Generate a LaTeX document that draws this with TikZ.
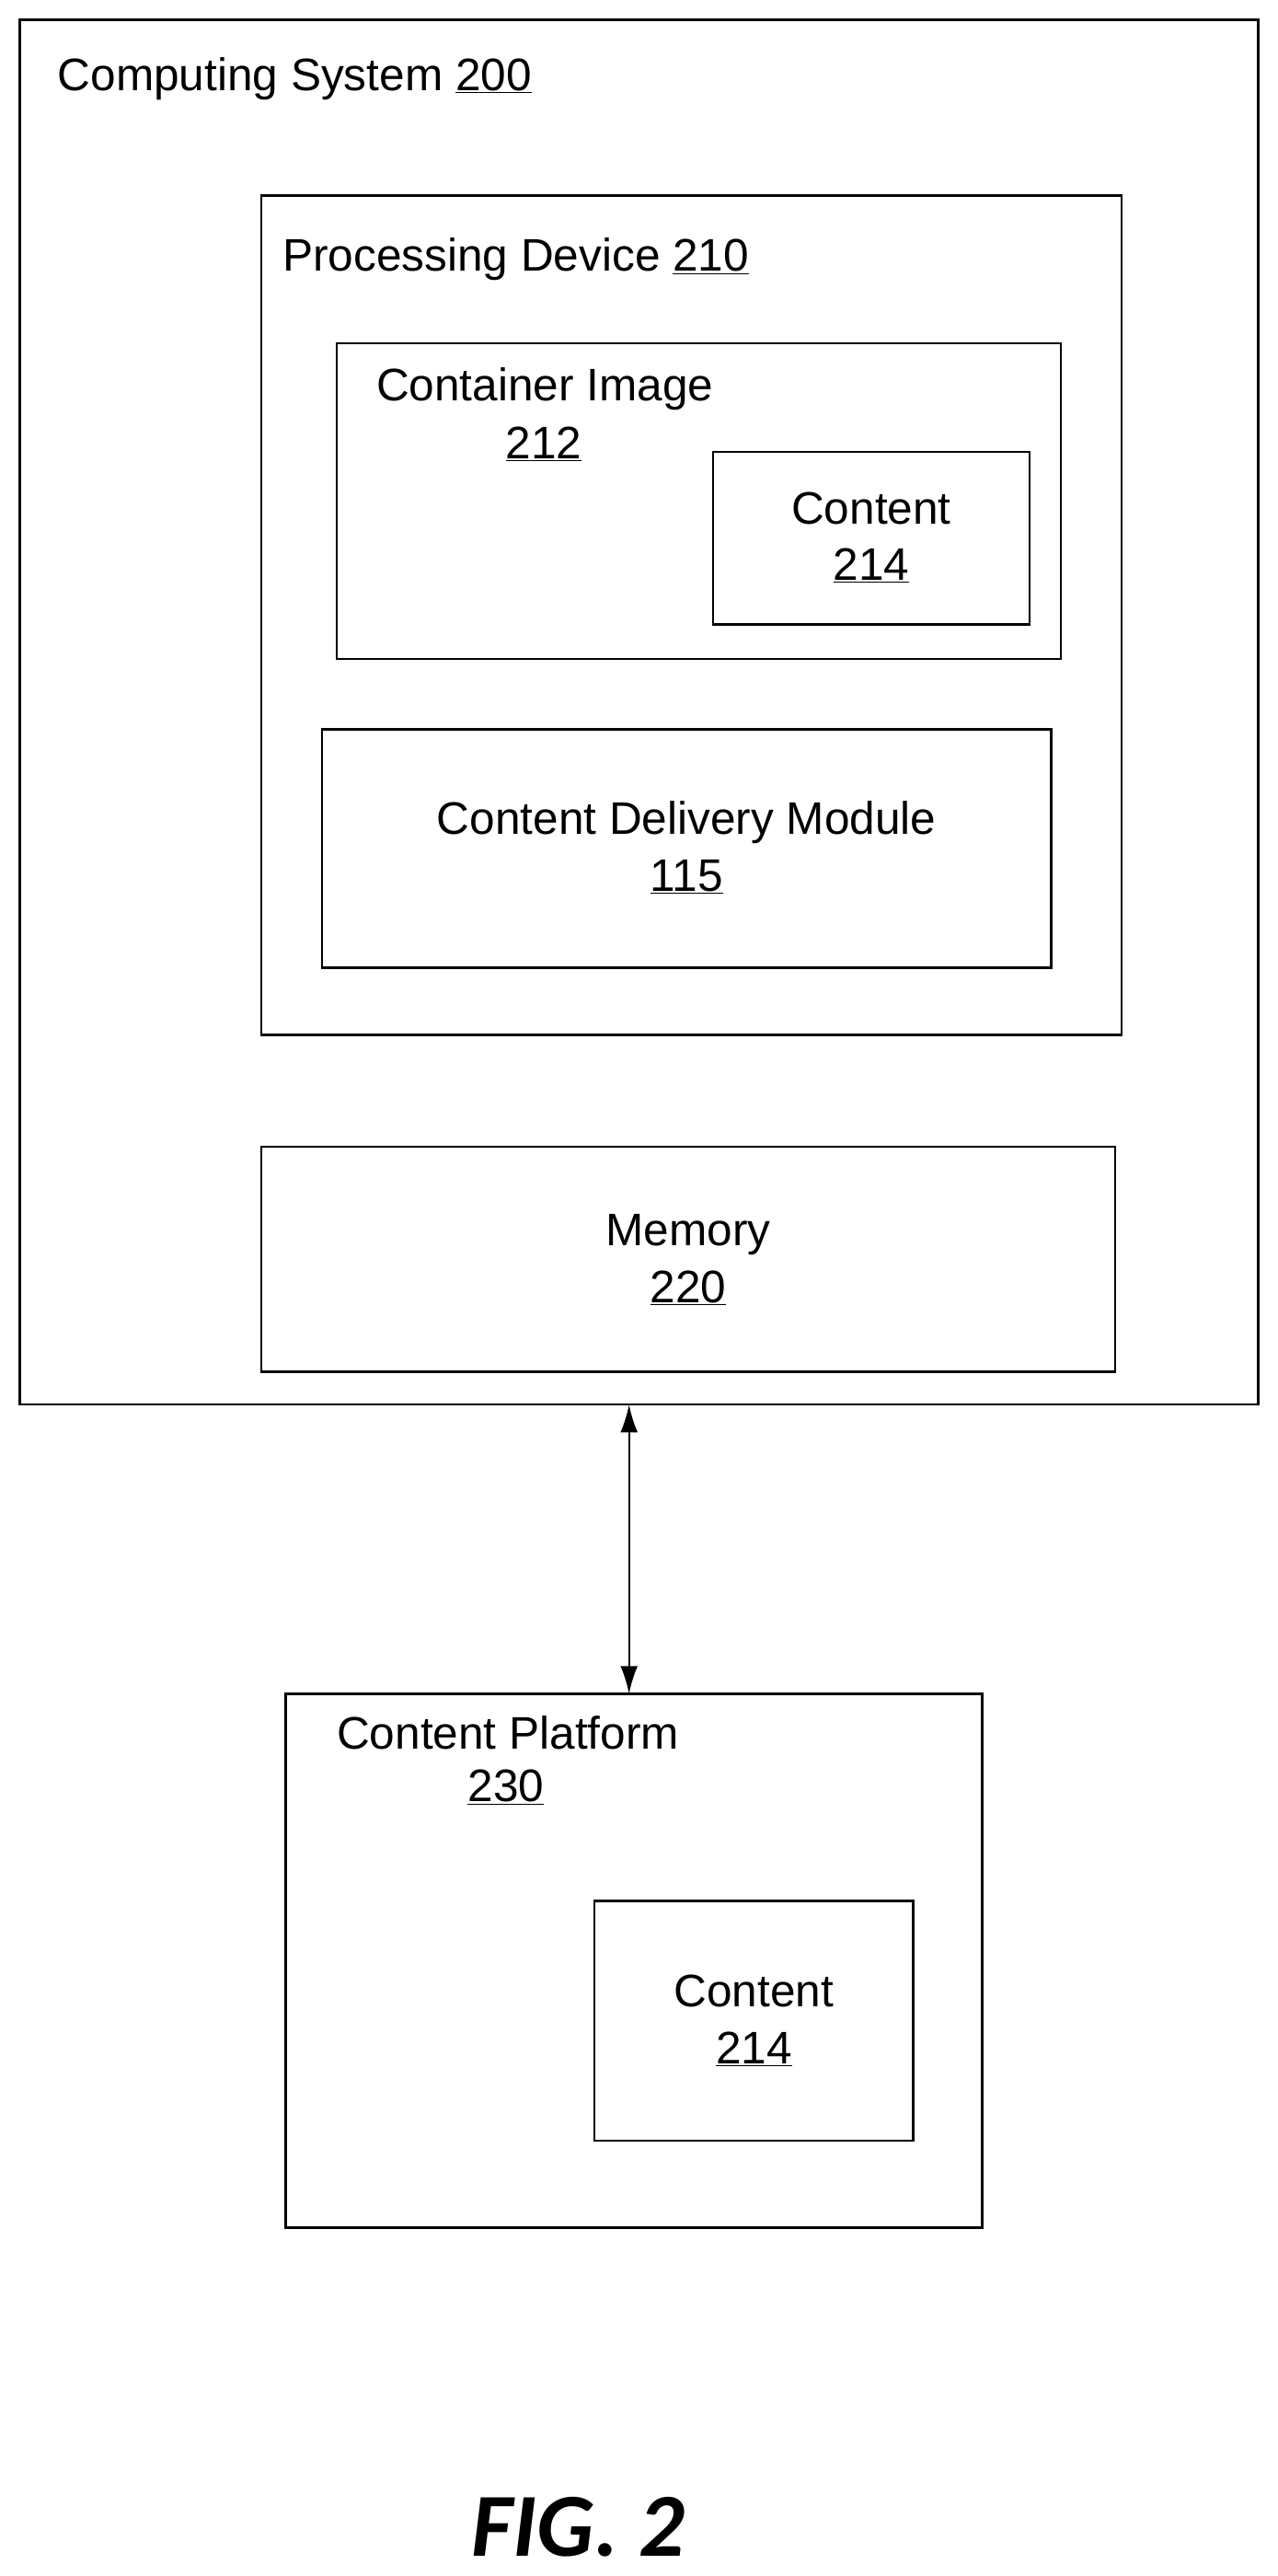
\documentclass[tikz,border=0pt]{standalone}
\usepackage{fontspec}
\setmainfont{Liberation Sans}
\newfontfamily\figfont{Carlito}
\usetikzlibrary{arrows.meta}
\begin{document}
\begin{tikzpicture}[x=0.05cm,y=-0.05cm,
  box/.style={draw,line width=1.9pt},
  txt/.style={font=\fontsize{39.5}{49}\selectfont,inner sep=0pt,align=center},
  lbl/.style={txt,anchor=west}]
\useasboundingbox (0,0) rectangle (778,1568);
\draw[box] (12,12) rectangle (766,855);
\coordinate (sysb) at (383,855);
\node[lbl] (t200) at (35,48) {Computing System \underline{200}};
\draw[box] (159,119) rectangle (683,630);
\node[lbl] (t210) at (172,158) {Processing Device \underline{210}};
\draw[box] (205,209) rectangle (646,401);
\node[lbl] (t212a) at (229,237) {Container Image};
\node[txt] (t212b) at (331,270) {\underline{212}};
\draw[box] (434,275) rectangle (627,380);
\node[txt] (c1) at (530.5,327) {Content\\\underline{214}};
\draw[box] (196,444) rectangle (640,589);
\node[txt] (cdm) at (418,516) {Content Delivery Module\\\underline{115}};
\draw[box] (159,698) rectangle (679,835);
\node[txt] (mem) at (419,767) {Memory\\\underline{220}};
\draw[box] (174,1031) rectangle (598,1356);
\coordinate (platt) at (383,1031);
\node[lbl] (t230a) at (205,1055) {Content Platform};
\node[txt] (t230b) at (308,1088) {\underline{230}};
\draw[box] (362,1157) rectangle (556,1303);
\node[txt] (c2) at (459,1230) {Content\\\underline{214}};
\draw[line width=1.6pt,{Latex[length=24pt,width=15pt]}-{Latex[length=24pt,width=15pt]}] (sysb) -- (platt);
\node[txt,font=\figfont\fontsize{78}{84}\selectfont\bfseries\itshape] (fig) at (352,1538) {FIG. 2};
\end{tikzpicture}
\end{document}
